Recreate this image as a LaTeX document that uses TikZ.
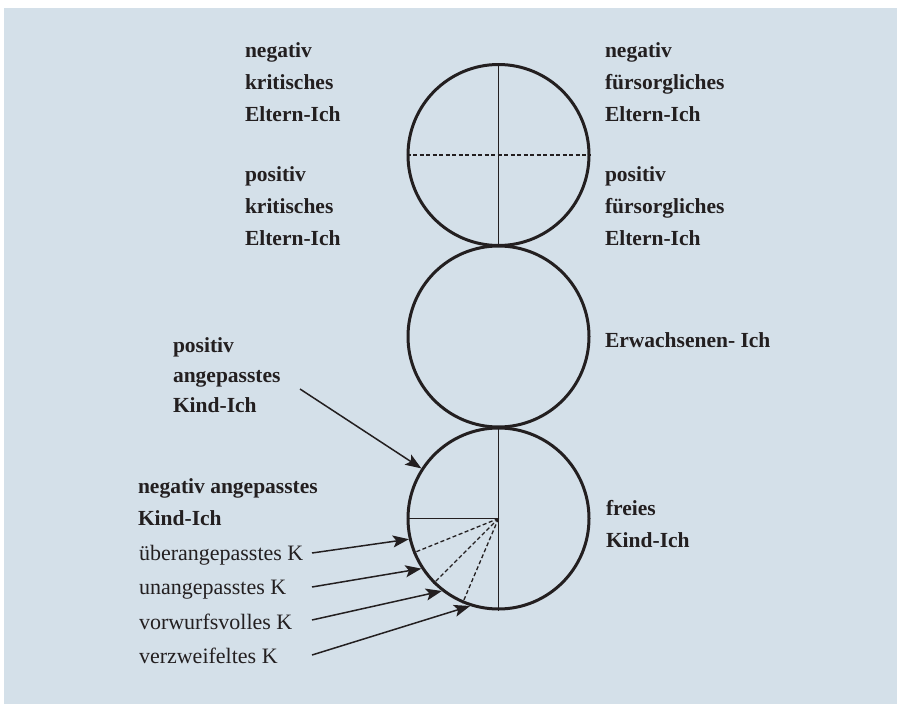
\documentclass[tikz,border=0pt]{standalone}
\usepackage{fontspec}
\setmainfont{Liberation Serif}
\usetikzlibrary{arrows.meta}
\definecolor{bg}{RGB}{212,224,233}
\definecolor{ink}{RGB}{35,31,32}
\tikzset{
  ego/.style={circle, draw=ink, line width=3pt, minimum size=181pt, inner sep=0pt},
  divider/.style={draw=ink, line width=1.4pt},
  dashdiv/.style={draw=ink, line width=1.3pt, dash pattern=on 4pt off 2.5pt},
  lbl/.style={anchor=base west, inner sep=0pt, outer sep=0pt, text=ink, align=left,
    font=\fontsize{21.5}{32}\selectfont\bfseries},
  lblr/.style={anchor=base west, inner sep=0pt, outer sep=0pt, text=ink, align=left,
    font=\fontsize{22}{32}\selectfont},
  pointer/.style={draw=ink, line width=1.5pt, -{Stealth[length=16pt,width=12pt,inset=3.5pt]}}
}
\begin{document}
\begin{tikzpicture}[x=1pt,y=-1pt]
\useasboundingbox (0,0) rectangle (897,704);
\fill[bg] (4,8) rectangle (897,704);

% circles
\node[ego] (eltern) at (498.5,155) {};
\node[ego] (erw) at (498.5,336.5) {};
\node[ego] (kind) at (498.5,518.5) {};

% divisions parent
\draw[divider] (eltern.north) -- (eltern.south);
\draw[dashdiv] (eltern.west) -- (eltern.east);

% divisions child
\draw[divider] (kind.north) -- (kind.south);
\draw[divider] (kind.west) -- (kind.center);
\draw[dashdiv] (kind.center) -- (kind.202.5);
\draw[dashdiv] (kind.center) -- (kind.225);
\draw[dashdiv] (kind.center) -- (kind.247.5);

% labels (anchor = baseline of the last line)
\node[lbl] (nkE) at (245,121) {negativ\\kritisches\\Eltern-Ich};
\node[lbl] (pkE) at (245,245) {positiv\\kritisches\\Eltern-Ich};
\node[lbl] (nfE) at (605,121) {negativ\\fürsorgliches\\Eltern-Ich};
\node[lbl] (pfE) at (605,245) {positiv\\fürsorgliches\\Eltern-Ich};
\node[lbl] (erwL) at (605,347) {Erwachsenen- Ich};
\node[lbl, font=\fontsize{21.5}{30}\selectfont\bfseries] (pak) at (173,412) {positiv\\angepasstes\\Kind-Ich};
\node[lbl] (nak) at (138,525) {negativ angepasstes\\Kind-Ich};
\node[lbl] (frei) at (606,547) {freies\\Kind-Ich};
\node[lblr] (ueb) at (139,560) {überangepasstes K};
\node[lblr] (unan) at (139,594) {unangepasstes K};
\node[lblr] (vorw) at (139,629) {vorwurfsvolles K};
\node[lblr] (verz) at (139,663) {verzweifeltes K};

% arrows
\coordinate (sPak) at (300,389);
\coordinate (sUeb) at (312,553);
\coordinate (sUnan) at (312,587);
\coordinate (sVorw) at (312,620);
\coordinate (sVerz) at (312,655);
\draw[pointer] (sPak) -- (kind.147.9);
\draw[pointer] (sUeb) -- (kind.193.8);
\draw[pointer] (sUnan) -- (kind.213.9);
\draw[pointer] (sVorw) -- (kind.232.4);
\draw[pointer] (sVerz) -- (kind.252.8);
\end{tikzpicture}
\end{document}
